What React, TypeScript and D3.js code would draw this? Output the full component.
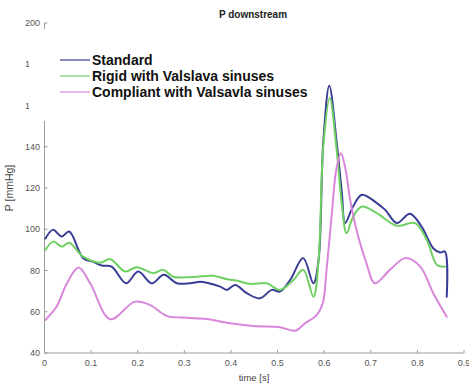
import React from "react";
import * as d3 from "d3";

const title = "P downstream";
const xLabel = "time [s]";
const yLabel = "P [mmHg]";
const xTicks = [0, 0.1, 0.2, 0.3, 0.4, 0.5, 0.6, 0.7, 0.8, 0.9];
const yTicks = [40, 60, 80, 100, 120, 140, 160, 180, 200];
const seriesNames = ["Standard", "Rigid with Valslava sinuses", "Compliant with Valsavla sinuses"];
const seriesColors = ["#3a3d96", "#6fd062", "#d886dc"];

const stdT = [0.002, 0.018, 0.037, 0.053, 0.083, 0.104, 0.123, 0.144, 0.175, 0.201, 0.23, 0.256, 0.284, 0.312, 0.334, 0.348, 0.377, 0.391, 0.409, 0.434, 0.462, 0.488, 0.505, 0.527, 0.555, 0.577, 0.588, 0.598, 0.611, 0.627, 0.638, 0.645, 0.662, 0.681, 0.713, 0.731, 0.756, 0.784, 0.809, 0.834, 0.849, 0.859, 0.863];
const stdP = [95.5, 99.7, 96.5, 98.9, 86, 84.3, 82.4, 81.9, 73.8, 79.5, 73.8, 77.9, 73.8, 73.8, 74.5, 74.1, 72.2, 70.6, 73, 69, 66.5, 70.6, 69.8, 75.4, 86, 73.8, 85, 142, 169.6, 141.8, 117.5, 103, 111, 116.7, 112.7, 109.4, 103, 107.5, 101.3, 90.8, 88.7, 89.2, 67.3];

const rigT = [0.002, 0.019, 0.037, 0.053, 0.083, 0.119, 0.141, 0.173, 0.198, 0.233, 0.255, 0.276, 0.305, 0.327, 0.362, 0.391, 0.412, 0.441, 0.477, 0.505, 0.534, 0.555, 0.577, 0.588, 0.598, 0.612, 0.627, 0.638, 0.648, 0.662, 0.681, 0.713, 0.756, 0.795, 0.82, 0.842, 0.859];
const rigP = [90, 94, 91.6, 93.5, 86.7, 83.8, 85.5, 79.5, 81.6, 78.7, 80.3, 77, 76.7, 77, 77.4, 75.8, 75.1, 73.5, 73.8, 70.6, 75.4, 80.3, 67.3, 85, 140, 163.6, 138, 112, 98.1, 106, 111, 107.8, 101.7, 103, 94.9, 82.7, 81.9];

const comT = [0.002, 0.026, 0.048, 0.073, 0.098, 0.141, 0.194, 0.226, 0.262, 0.305, 0.348, 0.398, 0.448, 0.505, 0.538, 0.559, 0.584, 0.597, 0.605, 0.617, 0.626, 0.636, 0.645, 0.656, 0.668, 0.69, 0.709, 0.741, 0.774, 0.806, 0.834, 0.863];
const comP = [56, 62.5, 73.8, 81.4, 73.8, 56.4, 64.9, 63.3, 58, 57.1, 56.5, 54.4, 53.1, 52.5, 50.8, 54.4, 58.4, 64.1, 80, 109, 129, 136.9, 130, 114, 101, 84, 73.8, 80.3, 86, 81.9, 69, 57.6];

const seriesT = [stdT, rigT, comT];
const seriesP = [stdP, rigP, comP];

export default function App() {
  const W = 469, H = 383;
  const x = d3.scaleLinear().domain([0, 0.9]).range([44.5, 464]);
  const y = d3.scaleLinear().domain([40, 200]).range([353, 23]);
  const line = d3
    .line<[number, number]>()
    .x((d) => x(d[0]))
    .y((d) => y(d[1]))
    .curve(d3.curveCatmullRom.alpha(0.5));
  const axisColor = "#9a9a9a";
  const textColor = "#555";
  const font = "Liberation Sans, Arial, sans-serif";
  return (
    <svg width={W} height={H} style={{ position: "absolute", left: 0, top: 0, background: "#fff" }} fontFamily={font}>
      <rect x={0} y={0} width={W} height={H} fill="#fff" />
      {/* axes */}
      <line x1={x(0)} x2={x(0.9)} y1={y(40)} y2={y(40)} stroke={axisColor} strokeWidth={1} />
      <line x1={x(0)} x2={x(0)} y1={y(40)} y2={y(200)} stroke={axisColor} strokeWidth={1} />
      {xTicks.map((t) => (
        <g key={"x" + t}>
          <line x1={x(t)} x2={x(t)} y1={y(40)} y2={y(40) - 3} stroke={axisColor} />
          <text x={x(t)} y={366} fontSize={9} fill={textColor} textAnchor="middle">
            {String(t)}
          </text>
        </g>
      ))}
      {yTicks.map((v) => (
        <g key={"y" + v}>
          <line x1={x(0)} x2={x(0) + 3} y1={y(v)} y2={y(v)} stroke={axisColor} />
          <text x={40} y={y(v) + 3} fontSize={9} fill={textColor} textAnchor="end">
            {String(v)}
          </text>
        </g>
      ))}
      <text x={254} y={381} fontSize={9.5} fill="#444" textAnchor="middle">
        {xLabel}
      </text>
      <text transform={`translate(13,188) rotate(-90)`} fontSize={10.5} fill="#444" textAnchor="middle">
        {yLabel}
      </text>
      <text x={253} y={18} fontSize={10} fontWeight="bold" fill="#222" textAnchor="middle">
        {title}
      </text>
      {/* data */}
      {seriesT.map((ts, i) => {
        const pts = ts.map((t, j) => [t, seriesP[i][j]] as [number, number]);
        return (
          <path
            key={"s" + i}
            d={line(pts) || ""}
            fill="none"
            stroke={seriesColors[i]}
            strokeWidth={2}
            strokeLinejoin="round"
            strokeLinecap="round"
          />
        );
      })}
      {/* legend */}
      <rect x={29} y={29} width={283} height={92} fill="#fff" />
      {seriesNames.map((n, i) => (
        <g key={"l" + i}>
          <line x1={60} x2={90} y1={60 + i * 16} y2={60 + i * 16} stroke={seriesColors[i]} strokeWidth={1.2} />
          <text x={92} y={65 + i * 16} fontSize={14} fontWeight="bold" fill="#111">
            {n}
          </text>
        </g>
      ))}
    </svg>
  );
}
